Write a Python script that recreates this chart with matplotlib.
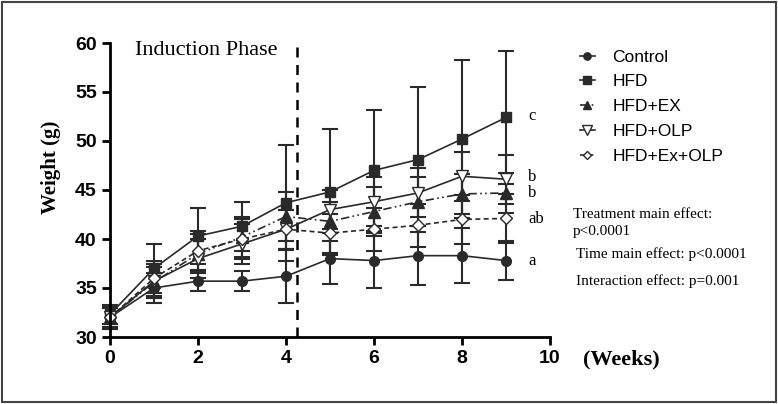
import matplotlib
matplotlib.use("Agg")
import matplotlib.pyplot as plt
from matplotlib.patches import Rectangle

weeks = [0, 1, 2, 3, 4, 5, 6, 7, 8, 9]
groups = ["Control", "HFD", "HFD+EX", "HFD+OLP", "HFD+Ex+OLP"]
control = [32.0, 35.0, 35.7, 35.7, 36.2, 38.0, 37.8, 38.3, 38.3, 37.8]
hfd = [32.3, 37.0, 40.3, 41.3, 43.7, 44.8, 47.0, 48.1, 50.2, 52.4]
hfd_ex = [32.0, 35.6, 38.5, 40.2, 42.3, 41.8, 42.8, 43.8, 44.6, 44.7]
hfd_olp = [32.0, 35.7, 38.0, 39.5, 41.0, 43.0, 43.8, 44.7, 46.4, 46.1]
hfd_ex_olp = [32.0, 36.0, 38.8, 40.0, 41.0, 40.6, 41.0, 41.4, 42.0, 42.1]
err_control = [1.2, 1.5, 1.0, 1.0, 2.7, 2.6, 2.8, 3.0, 2.8, 2.0]
err_hfd = [1.0, 2.5, 2.9, 2.5, 5.9, 6.4, 6.2, 7.4, 8.1, 6.8]
err_hfd_ex = [1.0, 1.5, 2.0, 2.0, 2.5, 2.0, 2.5, 2.5, 2.0, 2.0]
err_hfd_olp = [1.2, 1.7, 2.0, 2.0, 2.0, 2.0, 2.5, 2.5, 2.5, 2.5]
err_hfd_ex_olp = [1.0, 1.8, 2.0, 2.0, 2.0, 2.0, 2.2, 2.2, 2.5, 2.5]
letters = ["a", "c", "b", "b", "ab"]
letter_y = [37.8, 52.6, 44.7, 46.3, 42.0]
xticks = [0, 2, 4, 6, 8, 10]
yticks = [30, 35, 40, 45, 50, 55, 60]
stats_lines = ["Treatment main effect:", "p<0.0001", "Time main effect: p<0.0001", "Interaction effect: p=0.001"]

fig = plt.figure(figsize=(7.78, 4.04), dpi=100)
fig.patches.append(Rectangle((0.003, 0.004), 0.994, 0.992, transform=fig.transFigure,
                             fill=False, edgecolor="#444444", linewidth=1.5))
ax = fig.add_axes([110/778, 1-337/404, 440/778, 294/404])

c = "#2a2a2a"
specs = [
    (control, err_control, "o", "-", c, 7),
    (hfd, err_hfd, "s", "-", c, 7),
    (hfd_ex, err_hfd_ex, "^", (0, (5, 2, 1, 2, 1, 2)), c, 8),
    (hfd_olp, err_hfd_olp, "v", "-", "white", 9),
    (hfd_ex_olp, err_hfd_ex_olp, "D", (0, (3, 2)), "white", 6),
]
handles = []
for name, (vals, errs, mk, ls, fc, ms) in zip(groups, specs):
    eb = ax.errorbar(weeks, vals, yerr=errs, marker=mk, linestyle=ls, color=c,
                     markerfacecolor=fc, markeredgecolor=c, markersize=ms,
                     linewidth=1.2, elinewidth=1.5, capsize=6, capthick=1.5,
                     clip_on=False, label=name)
    handles.append(eb)

ax.axvline(4.25, color="black", linestyle=(0, (4, 3)), linewidth=1.8)

ax.set_xlim(0, 10)
ax.set_ylim(30, 60)
ax.set_xticks(xticks)
ax.set_yticks(yticks)
for s in ["top", "right"]:
    ax.spines[s].set_visible(False)
for s in ["left", "bottom"]:
    ax.spines[s].set_linewidth(2)
ax.tick_params(width=2, length=6, direction="out", labelsize=14)
for lab in ax.get_xticklabels() + ax.get_yticklabels():
    lab.set_fontweight("bold")
    lab.set_fontfamily("Liberation Sans")

ax.set_ylabel("Weight (g)", fontfamily="Liberation Serif", fontweight="bold", fontsize=15)
ax.yaxis.set_label_coords(-0.112, 0.578)
fig.text(583/778, 1-359/404, "(Weeks)", fontfamily="Liberation Serif", fontweight="bold",
         fontsize=16, va="center", ha="left")
ax.text(0.57, 59.2, "Induction Phase", fontfamily="Liberation Serif", fontsize=16, va="center")

for g, lt, ly in zip(groups, letters, letter_y):
    ax.text(9.5, ly, lt, fontfamily="Liberation Serif", fontsize=12, va="center", ha="left", clip_on=False)

leg_handles = [h[0] for h in handles]
fig.legend(leg_handles, groups, loc="upper left", bbox_to_anchor=(564/778, 1-34/404),
           frameon=False, prop={"family": "Liberation Sans", "size": 12.5},
           handlelength=0.9, labelspacing=0.55, handletextpad=1.0, markerscale=0.75)

ys = [215, 232, 254, 281]
xs = [573, 573, 576, 576]
for t, x, y in zip(stats_lines, xs, ys):
    fig.text(x/778, 1-y/404, t, fontfamily="Liberation Serif", fontsize=11, va="center", ha="left")

fig.savefig("out.png", dpi=100)
